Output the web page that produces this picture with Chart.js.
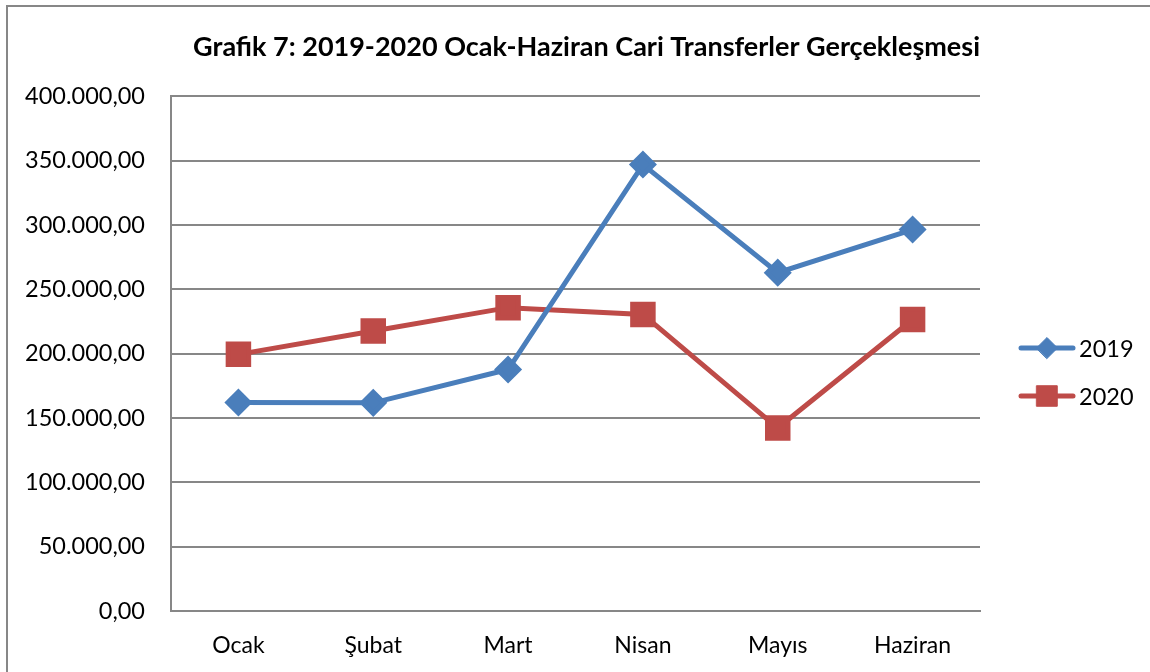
<!DOCTYPE html>
<html>
<head>
<meta charset="utf-8">
<script src="https://cdn.jsdelivr.net/npm/chart.js@4.4.0/dist/chart.umd.min.js"></script>
<style>
  body { margin: 0; background: #fff; }
  #wrap { width: 1150px; height: 672px; position: relative; }
</style>
</head>
<body>
<div id="wrap"><canvas id="grafik7" width="1150" height="672"></canvas></div>
<script>
const months = ["Ocak", "Şubat", "Mart", "Nisan", "Mayıs", "Haziran"];
const values2019 = [162000, 161800, 187700, 347000, 263000, 296500];
const values2020 = [199500, 217600, 235800, 230500, 142200, 226600];
const yMin = 0;
const yMax = 400000;
const yStep = 50000;

const blue = '#4a7ebb';
const red = '#be4b48';
const gridGrey = '#878787';
const fontName = 'Lato, Carlito, Calibri, sans-serif';

// 400000 -> "400.000,00"
function trNumber(v) {
    var s = Math.round(v).toString().replace(/\B(?=(\d{3})+(?!\d))/g, '.');
    return s + ',00';
}

// outer frame + legend with line and marker, like the office chart
const frameAndLegend = {
    id: 'frameAndLegend',
    beforeDraw(chart) {
        const ctx = chart.ctx;
        ctx.save();
        ctx.strokeStyle = gridGrey;
        ctx.lineWidth = 2;
        ctx.strokeRect(7, 6, 1300, 1000);
        ctx.restore();
    },
    afterDraw(chart) {
        const ctx = chart.ctx;
        const rows = [348, 396];
        chart.data.datasets.forEach(function (ds, i) {
            const y = rows[i];
            ctx.save();
            ctx.strokeStyle = ds.borderColor;
            ctx.lineWidth = ds.borderWidth;
            ctx.lineCap = 'round';
            ctx.beginPath();
            ctx.moveTo(1021, y);
            ctx.lineTo(1073, y);
            ctx.stroke();
            ctx.fillStyle = ds.pointBackgroundColor;
            ctx.strokeStyle = ds.pointBorderColor;
            ctx.lineWidth = 1;
            Chart.helpers.drawPoint(ctx, {
                pointStyle: ds.pointStyle,
                radius: ds.pointRadius,
                borderWidth: 1
            }, 1047, y);
            ctx.fillStyle = '#000';
            ctx.font = '23.5px ' + fontName;
            ctx.textBaseline = 'middle';
            ctx.fillText(ds.label, 1079, y + 1);
            ctx.restore();
        });
    }
};

new Chart(document.getElementById('grafik7'), {
    type: 'line',
    data: {
        labels: months,
        datasets: [
            {
                label: '2019',
                data: values2019,
                borderColor: blue,
                borderWidth: 5,
                pointStyle: 'rectRot',
                pointRadius: 10.5,
                pointBackgroundColor: blue,
                pointBorderColor: blue,
                tension: 0,
            },
            {
                label: '2020',
                data: values2020,
                borderColor: red,
                borderWidth: 5,
                pointStyle: 'rect',
                pointRadius: 14.5,
                pointBackgroundColor: red,
                pointBorderColor: red,
                tension: 0,
            },
        ],
    },
    options: {
        responsive: false,
        animation: false,
        layout: {
            padding: { left: 0, right: 170, top: 0, bottom: 0 }
        },
        plugins: {
            legend: { display: false },
            tooltip: { enabled: false },
            title: {
                display: true,
                align: 'end',
                text: 'Grafik 7: 2019-2020 Ocak-Haziran Cari Transferler Gerçekleşmesi',
                color: '#000',
                font: { family: fontName, size: 27, weight: 'bold' },
                padding: { top: 31, bottom: 33 }
            }
        },
        scales: {
            x: {
                offset: true,
                grid: { display: false, drawTicks: false },
                border: { display: true, color: gridGrey, width: 2 },
                ticks: {
                    color: '#000',
                    font: { family: fontName, size: 23 },
                    padding: 21,
                    maxRotation: 0
                },
                afterFit(scale) { scale.height = 61; }
            },
            y: {
                min: yMin,
                max: yMax,
                grid: { color: gridGrey, lineWidth: 2, drawTicks: false },
                border: { display: true, color: gridGrey, width: 2 },
                ticks: {
                    stepSize: yStep,
                    color: '#000',
                    font: { family: fontName, size: 23.5 },
                    padding: 26,
                    callback: function (v) { return trNumber(v); }
                },
                afterFit(scale) { scale.width = 171; }
            }
        }
    },
    plugins: [frameAndLegend]
});
</script>
</body>
</html>
